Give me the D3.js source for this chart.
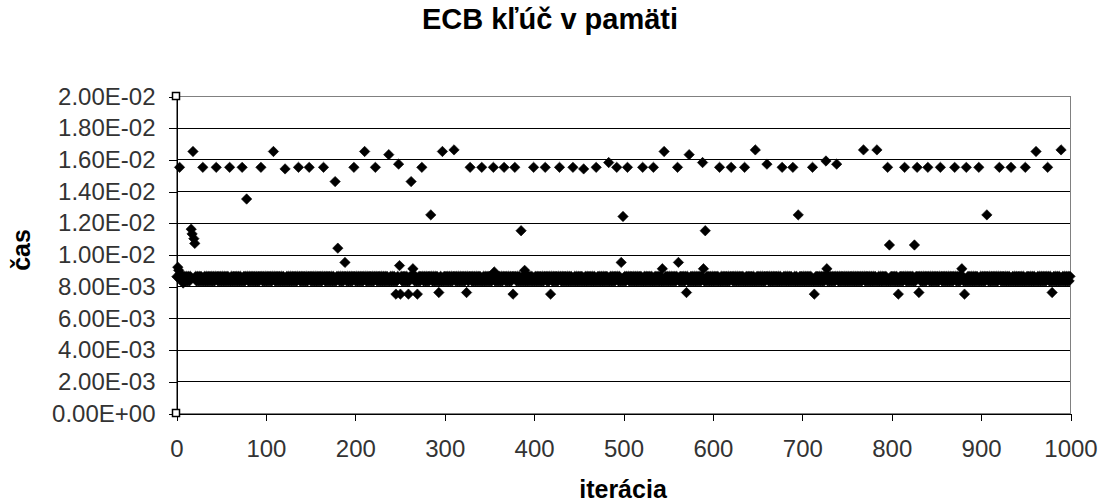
<!DOCTYPE html>
<html>
<head>
<meta charset="utf-8">
<script src="https://cdn.jsdelivr.net/npm/d3@7"></script>
<style>
  body { margin: 0; background: #fff; }
  text { font-family: "Liberation Sans", Arial, sans-serif; }
</style>
</head>
<body>
<svg id="chart"></svg>
<script>
'use strict'

const TITLE = 'ECB kľúč v pamäti';
const X_TITLE = 'iterácia';
const Y_TITLE = 'čas';

const ITERATIONS = 1000;

const xTicks = [0, 100, 200, 300, 400, 500, 600, 700, 800, 900, 1000];
const yTicks = [0, 0.002, 0.004, 0.006, 0.008, 0.010, 0.012, 0.014, 0.016, 0.018, 0.020];
const yTickLabels = ['0.00E+00', '2.00E-03', '4.00E-03', '6.00E-03', '8.00E-03', '1.00E-02',
    '1.20E-02', '1.40E-02', '1.60E-02', '1.80E-02', '2.00E-02'];

// the thick row: upper and lower edge of it, neighbouring points alternate
const bandTimes = [8.62e-3, 8.33e-3];

// points that stand out of the row
const outlierIter = [
    4, 19, 30, 45, 60, 74, 79, 95, 109, 122, 137, 149, 165, 178, 199, 211, 223, 238, 249, 263,
    275, 285, 298, 311, 329, 342, 355, 367, 379, 386, 400, 413, 429, 444, 456, 470, 484, 493,
    505, 522, 534, 546, 561, 574, 589, 608, 621, 636, 648, 661, 678, 690, 712, 727, 739, 769,
    784, 796, 815, 829, 841, 855, 871, 884, 898, 921, 934, 950, 962, 975, 990,
    17, 18, 20, 21, 181, 189, 500, 592, 696, 798, 826, 907,
    1, 2, 3, 5, 8, 250, 265, 356, 390, 498, 544, 562, 590, 728, 879,
    246, 251, 260, 270, 294, 325, 377, 419, 571, 714, 808, 831, 882, 980
];
const outlierTime = [
    0.0155, 0.0165, 0.0155, 0.0155, 0.0155, 0.0155, 0.0135, 0.0155, 0.0165, 0.0154, 0.0155, 0.0155, 0.0155, 0.0146, 0.0155, 0.0165, 0.0155, 0.0163, 0.0157, 0.0146,
    0.0155, 0.0125, 0.0165, 0.0166, 0.0155, 0.0155, 0.0155, 0.0155, 0.0155, 0.0115, 0.0155, 0.0155, 0.0155, 0.0155, 0.0154, 0.0155, 0.0158, 0.0155,
    0.0155, 0.0155, 0.0155, 0.0165, 0.0155, 0.0163, 0.0158, 0.0155, 0.0155, 0.0155, 0.0166, 0.0157, 0.0155, 0.0155, 0.0155, 0.0159, 0.0157, 0.0166,
    0.0166, 0.0155, 0.0155, 0.0155, 0.0155, 0.0155, 0.0155, 0.0155, 0.0155, 0.0155, 0.0155, 0.0155, 0.0165, 0.0155, 0.0166,
    0.0116, 0.0113, 0.0110, 0.0107, 0.0104, 0.0095, 0.0124, 0.0115, 0.0125, 0.0106, 0.0106, 0.0125,
    0.0086, 0.0092, 0.0090, 0.0088, 0.0082, 0.0093, 0.0091, 0.0089, 0.0090, 0.0095, 0.0091, 0.0095, 0.0091, 0.0091, 0.0091,
    0.0075, 0.0075, 0.0075, 0.0075, 0.0076, 0.0076, 0.0075, 0.0075, 0.0076, 0.0075, 0.0075, 0.0076, 0.0075, 0.0076
];

// second series, only the two square markers on the axis
const markerIter = [0, 0];
const markerTime = [0.020, 0];

const width = 1103,
    height = 504;

const plotLeft = 176,
    plotRight = 1070,
    plotTop = 96,
    plotBottom = 413;

let svg = d3.select('#chart')
    .attr('width', width)
    .attr('height', height)
    .style('background', '#fff');

let x = d3.scaleLinear().domain([0, ITERATIONS]).range([plotLeft, plotRight]);
let y = d3.scaleLinear().domain([0, 0.02]).range([plotBottom, plotTop]);

// build the series from the row values and the outliers
let outlierMap = new Map(outlierIter.map((it, i) => [it, outlierTime[i]]));
let points = [];
for (let it = 1; it <= ITERATIONS; it++) {
    let t = outlierMap.has(it) ? outlierMap.get(it) : bandTimes[it % bandTimes.length];
    points.push({ iter: it, time: t });
}

// gridlines
svg.append('g')
    .selectAll('line')
    .data(yTicks.filter(d => d > 0 && d < 0.02))
    .join('line')
    .attr('x1', plotLeft)
    .attr('x2', plotRight)
    .attr('y1', d => Math.round(y(d)) + 0.5)
    .attr('y2', d => Math.round(y(d)) + 0.5)
    .attr('stroke', '#000')
    .attr('stroke-width', 1);

// plot frame (top and right are grey)
svg.append('rect')
    .attr('x', plotLeft + 0.5)
    .attr('y', Math.round(y(0.02)) + 0.5)
    .attr('width', plotRight - plotLeft)
    .attr('height', Math.round(y(0)) - Math.round(y(0.02)))
    .attr('fill', 'none')
    .attr('stroke', '#808080');

const diamond = 'M0,-5.2L5.2,0L0,5.2L-5.2,0Z';

svg.append('g')
    .selectAll('path')
    .data(points)
    .join('path')
    .attr('d', diamond)
    .attr('transform', d => 'translate(' + x(d.iter) + ',' + y(d.time) + ')')
    .attr('fill', '#000')
    .attr('stroke', '#000')
    .attr('stroke-width', 0.6);

// axes
let yAxis = d3.axisLeft(y)
    .tickValues(yTicks)
    .tickSize(8)
    .tickSizeOuter(0)
    .tickPadding(13)
    .tickFormat((d, i) => yTickLabels[i]);

let xAxis = d3.axisBottom(x)
    .tickValues(xTicks)
    .tickSize(7)
    .tickSizeOuter(0)
    .tickPadding(19)
    .tickFormat(d3.format('d'));

let gy = svg.append('g')
    .attr('transform', 'translate(' + (plotLeft + 0.5) + ',0.5)')
    .call(yAxis);

let gx = svg.append('g')
    .attr('transform', 'translate(0.5,' + (Math.round(y(0)) + 0.5) + ')')
    .call(xAxis);

for (let g of [gx, gy]) {
    g.selectAll('path, line').attr('stroke', '#000').attr('shape-rendering', 'crispEdges');
    g.selectAll('text')
        .attr('font-family', '"Liberation Sans", Arial, sans-serif')
        .attr('font-size', 24)
        .attr('fill', '#333');
}

// square markers at 0 and 2.00E-02
svg.append('g')
    .selectAll('rect')
    .data(markerIter.map((it, i) => ({ iter: it, time: markerTime[i] })))
    .join('rect')
    .attr('x', d => x(d.iter) - 3.5)
    .attr('y', d => y(d.time) - 3.5)
    .attr('width', 7)
    .attr('height', 7)
    .attr('fill', '#fff')
    .attr('stroke', '#000')
    .attr('stroke-width', 1.5);

// titles
svg.append('text')
    .attr('x', 550)
    .attr('y', 28.5)
    .attr('text-anchor', 'middle')
    .attr('font-size', 29)
    .attr('font-weight', 'bold')
    .text(TITLE);

svg.append('text')
    .attr('x', 623)
    .attr('y', 498)
    .attr('text-anchor', 'middle')
    .attr('font-size', 25)
    .attr('font-weight', 'bold')
    .text(X_TITLE);

svg.append('text')
    .attr('transform', 'translate(30,250) rotate(-90)')
    .attr('text-anchor', 'middle')
    .attr('font-size', 25)
    .attr('font-weight', 'bold')
    .text(Y_TITLE);
</script>
</body>
</html>
